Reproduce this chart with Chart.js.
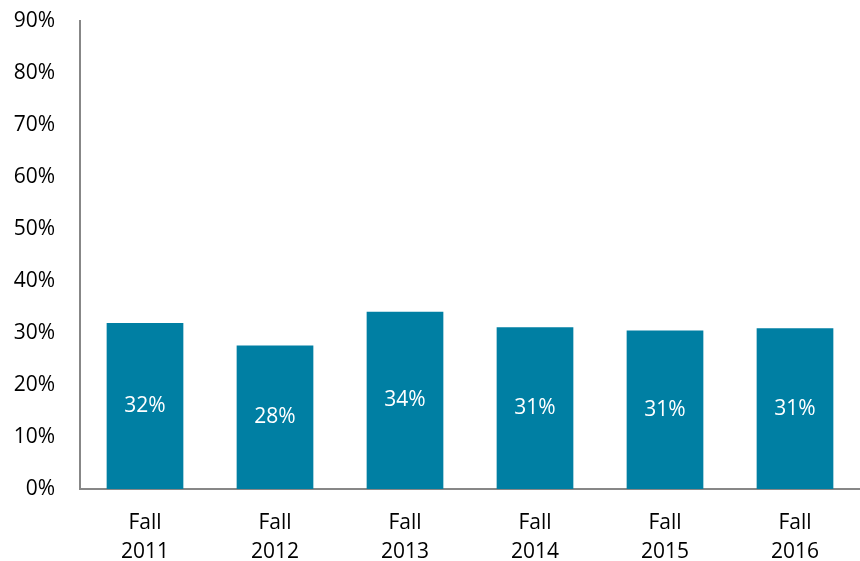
<!DOCTYPE html>
<html>
<head>
<meta charset="utf-8">
<script src="https://cdn.jsdelivr.net/npm/chart.js@4/dist/chart.umd.min.js"></script>
<style>
  body { margin: 0; background: #fff; }
  canvas { display: block; }
</style>
</head>
<body>
<canvas id="fallChart" width="860" height="561"></canvas>
<script>
const terms = [["Fall", "2011"], ["Fall", "2012"], ["Fall", "2013"], ["Fall", "2014"], ["Fall", "2015"], ["Fall", "2016"]];
const rates = [31.9, 27.6, 34.1, 31.1, 30.5, 30.9];
const rateLabels = ["32%", "28%", "34%", "31%", "31%", "31%"];

const barLabels = {
  id: "barLabels",
  afterDatasetsDraw(chart) {
    const ctx = chart.ctx;
    const meta = chart.getDatasetMeta(0);
    ctx.save();
    ctx.fillStyle = "#ffffff";
    ctx.font = "21px 'Open Sans'";
    ctx.textAlign = "center";
    ctx.textBaseline = "middle";
    meta.data.forEach((bar, i) => {
      ctx.fillText(rateLabels[i], bar.x, (bar.y + bar.base) / 2);
    });
    ctx.restore();
  },
};

const fallGraph = () => {
  let ctx = document.getElementById("fallChart").getContext("2d");
  let myChart = new Chart(ctx, {
    type: "bar",
    data: {
      labels: terms,
      datasets: [
        {
          label: "Rate",
          data: rates,
          backgroundColor: "#007fa3",
          categoryPercentage: 1,
          barPercentage: 0.59,
        },
      ],
    },
    options: {
      responsive: false,
      animation: false,
      layout: {
        padding: { top: 21, right: 0, bottom: 0, left: 0 },
      },
      plugins: {
        legend: { display: false },
        tooltip: { enabled: false },
      },
      scales: {
        x: {
          grid: { display: false, drawTicks: false },
          border: { display: true, color: "#878787", width: 2 },
          ticks: {
            color: "#000",
            font: { family: "Open Sans", size: 21, lineHeight: 1.4 },
            padding: 19,
            maxRotation: 0,
          },
          afterFit: (scale) => {
            scale.height = 72;
            scale.paddingLeft = 0;
            scale.paddingRight = 0;
          },
        },
        y: {
          min: 0,
          max: 90,
          grid: { display: false, drawTicks: false },
          border: { display: true, color: "#878787", width: 2 },
          ticks: {
            stepSize: 10,
            color: "#000",
            font: { family: "Open Sans", size: 21 },
            padding: 25,
            callback: (v) => v + "%",
          },
          afterFit: (scale) => {
            scale.width = 80;
            scale.paddingTop = 0;
            scale.paddingBottom = 0;
          },
        },
      },
    },
    plugins: [barLabels],
  });
};

fallGraph();
</script>
</body>
</html>
